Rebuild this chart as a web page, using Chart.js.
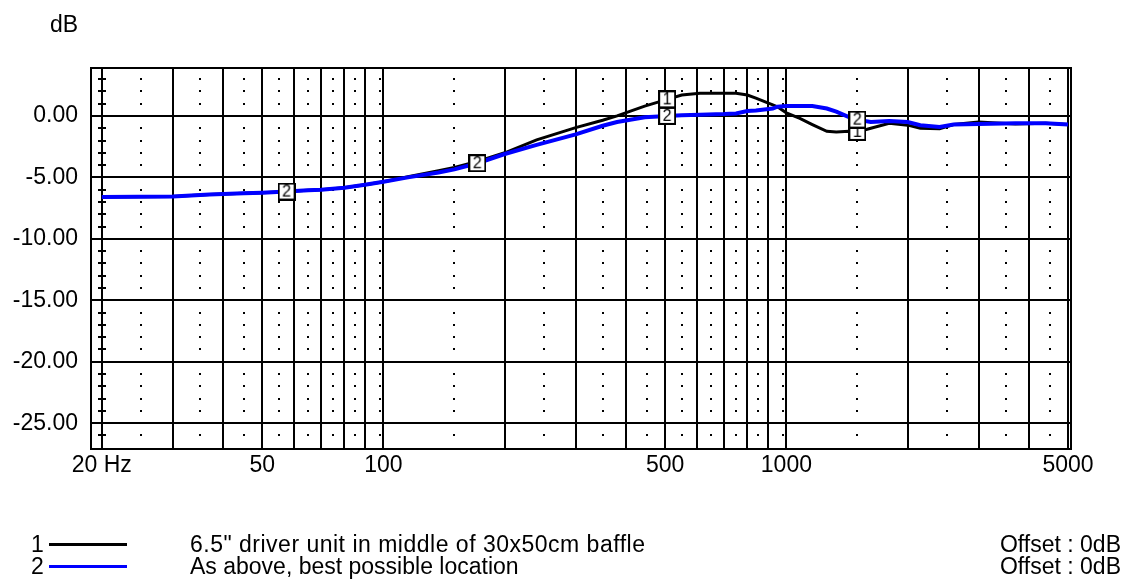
<!DOCTYPE html>
<html>
<head>
<meta charset="utf-8">
<script src="https://cdn.jsdelivr.net/npm/chart.js@4"></script>
<style>
body{margin:0;background:#fff;}
#wrap{position:relative;width:1126px;height:583px;font-family:"Liberation Sans",Arial,sans-serif;font-size:23px;color:#000;}
#c{position:absolute;left:0;top:0;}
.t{position:absolute;line-height:26px;white-space:nowrap;}
.sw{position:absolute;height:3px;}
</style>
</head>
<body>
<div id="wrap">
<canvas id="c" width="1126" height="583"></canvas>
<div class="t" style="left:50px;top:11px">dB</div>
<div class="t" style="left:31px;top:531px">1</div>
<div class="sw" style="left:49px;top:543px;width:78px;background:#000"></div>
<div class="t" style="left:190px;top:531px;letter-spacing:0.5px">6.5" driver unit in middle of 30x50cm baffle</div>
<div class="t" style="right:5px;top:531px">Offset : 0dB</div>
<div class="t" style="left:31px;top:553px">2</div>
<div class="sw" style="left:49px;top:565px;width:78px;background:#0000ff"></div>
<div class="t" style="left:190px;top:553px">As above, best possible location</div>
<div class="t" style="right:5px;top:553px">Offset : 0dB</div>
</div>
<script>
/* DATA */
const freqs = [20,30,37,45,50,57.5,65,70,80,90,100,115,137,150,171,200,240,300,350,380,445,506,550,610,700,750,800,840,925,950,1000,1080,1160,1260,1330,1430,1500,1620,1800,2000,2150,2400,2600,3000,3700,4400,5000];
const driverMiddle = [-6.6,-6.55,-6.4,-6.3,-6.25,-6.15,-6.05,-6.0,-5.85,-5.6,-5.35,-4.95,-4.45,-4.2,-3.7,-3.0,-1.95,-0.95,-0.35,0.0,0.8,1.35,1.7,1.85,1.85,1.85,1.7,1.45,0.9,0.75,0.25,-0.2,-0.7,-1.25,-1.3,-1.25,-1.3,-1.0,-0.6,-0.75,-1.0,-1.05,-0.7,-0.5,-0.65,-0.6,-0.7];
const bestLocation = [-6.6,-6.55,-6.4,-6.3,-6.25,-6.15,-6.05,-6.0,-5.85,-5.6,-5.35,-5.0,-4.6,-4.35,-3.85,-3.1,-2.35,-1.5,-0.8,-0.5,-0.1,0.0,0.05,0.1,0.15,0.2,0.4,0.45,0.6,0.75,0.8,0.8,0.8,0.6,0.35,-0.1,-0.3,-0.5,-0.42,-0.5,-0.75,-0.9,-0.7,-0.65,-0.6,-0.6,-0.7];

const majorFreqs = [20,30,40,50,60,70,80,90,100,200,300,400,500,600,700,800,900,1000,2000,3000,4000,5000];
const minorFreqs = [25,35,45,55,65,75,85,98,150,250,350,450,550,650,750,850,980,1500,2500,3500,4500];
const labelFreqs = [20,50,100,500,1000,5000];
const labelTexts = ['20 Hz','50','100','500','1000','5000'];
const dbTicks = [0,-5,-10,-15,-20,-25];
const markers1 = [506,1500];
const markers2 = [57.5,171,506,1500];

/* MARKER BOXES */
function boxIcon(txt){
const c=document.createElement('canvas');
c.width=18;c.height=18;
const g=c.getContext('2d');
g.fillStyle='#fff';g.fillRect(0,0,18,18);
g.strokeStyle='#000';g.lineWidth=2;g.strokeRect(1,1,16,16);
g.fillStyle='#000';g.font='16px "Liberation Sans"';
g.textAlign='center';g.textBaseline='middle';
g.fillText(txt,9,10);
return c;
}
const icon1=boxIcon('1');
const icon2=boxIcon('2');

/* GRID EXTRAS: frame, dotted minor lines, ticks on 20 Hz line */
const gridExtras={
id:'gridExtras',
beforeDatasetsDraw(chart){
const {ctx,chartArea:a,scales:{x,y}}=chart;
ctx.save();
ctx.fillStyle='#000';
for(const f of minorFreqs){
const px=Math.round(x.getPixelForValue(f));
for(let d=3;d>=-27;d--){
if(d%5===0)continue;
const py=Math.round(y.getPixelForValue(d));
if(py<a.top+3||py>a.bottom-3)continue;
ctx.fillRect(px-1,py-1,2,2);
}
}
const p20=Math.round(x.getPixelForValue(20));
for(let d=3;d>=-27;d--){
if(d%5===0)continue;
const py=Math.round(y.getPixelForValue(d));
if(py<a.top+3||py>a.bottom-3)continue;
ctx.fillRect(p20-4,py-1,8,2);
}
ctx.strokeStyle='#000';ctx.lineWidth=2;
ctx.strokeRect(a.left,a.top,a.right-a.left,a.bottom-a.top);
ctx.restore();
}
};

function pts(vals){return freqs.map((f,i)=>({x:f,y:vals[i]}));}

const tickFont={family:'"Liberation Sans", Arial, sans-serif',size:23};

const chart=new Chart(document.getElementById('c'),{
type:'line',
data:{
datasets:[
{
label:'As above, best possible location',
data:pts(bestLocation),
borderColor:'#0000ff',
borderWidth:4,
order:0,
pointRadius:c=>markers2.includes(freqs[c.dataIndex])?8:0,
pointStyle:c=>markers2.includes(freqs[c.dataIndex])?icon2:'circle',
pointHoverRadius:0
},
{
label:'6.5" driver unit in middle of 30x50cm baffle',
data:pts(driverMiddle),
borderColor:'#000',
borderWidth:3,
order:1,
pointRadius:c=>markers1.includes(freqs[c.dataIndex])?8:0,
pointStyle:c=>markers1.includes(freqs[c.dataIndex])?icon1:'circle',
pointHoverRadius:0
}
]
},
options:{
responsive:false,
animation:false,
events:[],
layout:{padding:{top:68,right:55,left:0,bottom:0}},
elements:{line:{tension:0}},
plugins:{legend:{display:false},tooltip:{enabled:false}},
scales:{
x:{
type:'logarithmic',
min:18.8,
max:5086,
bounds:'data',
afterBuildTicks:s=>{s.ticks=majorFreqs.map(v=>({value:v}));},
afterFit:s=>{s.height=134;},
grid:{color:'#000',lineWidth:2,drawTicks:false},
border:{display:false},
ticks:{autoSkip:false,maxRotation:0,padding:3,color:'#000',font:tickFont,
callback:v=>{const i=labelFreqs.indexOf(v);return i<0?'':labelTexts[i];}}
},
y:{
min:-27.1,
max:3.9,
bounds:'data',
afterBuildTicks:s=>{s.ticks=dbTicks.map(v=>({value:v}));},
afterFit:s=>{s.width=91;},
grid:{color:'#000',lineWidth:2,drawTicks:false},
border:{display:false},
ticks:{padding:13,color:'#000',font:tickFont,callback:v=>v.toFixed(2)}
}
}
},
plugins:[gridExtras]
});
</script>
</body>
</html>
